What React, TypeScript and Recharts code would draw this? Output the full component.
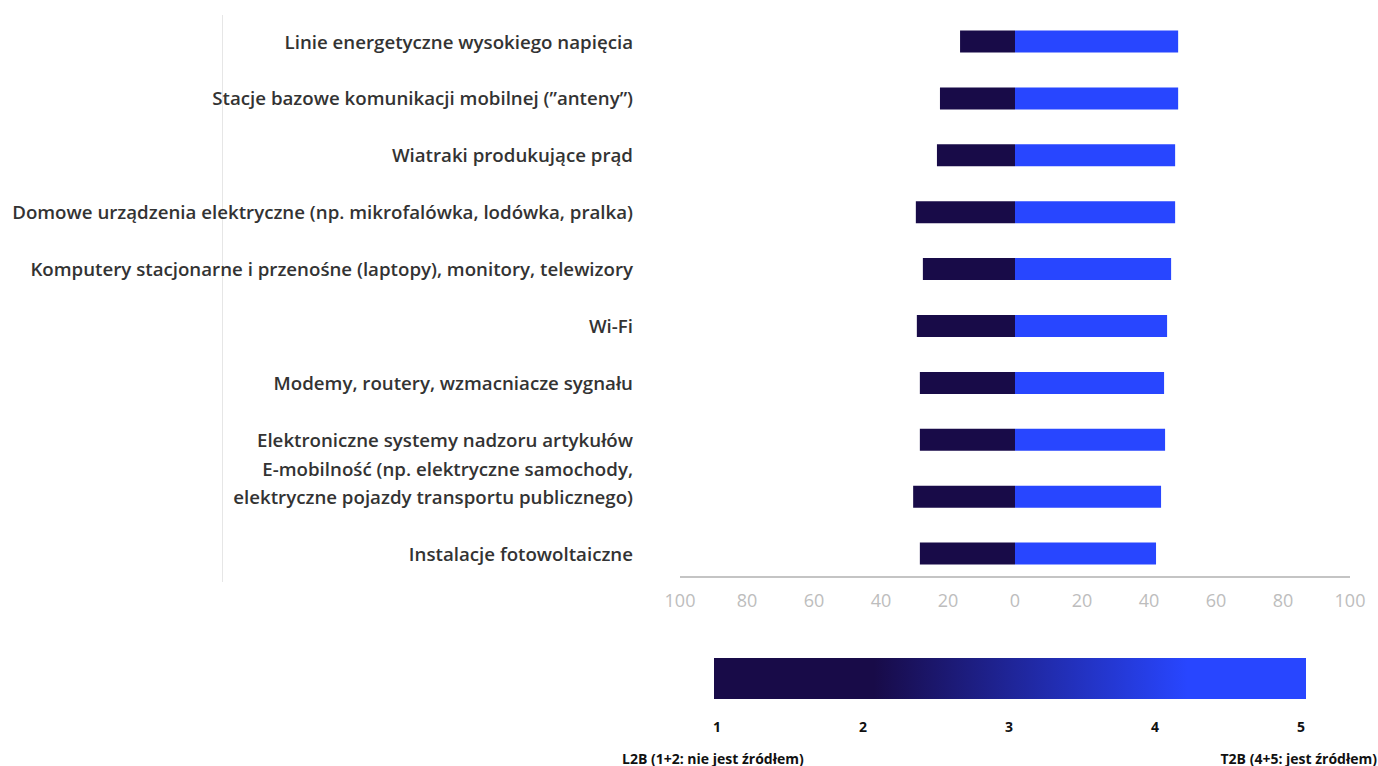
import React from 'react';
import { BarChart, Bar, XAxis, YAxis } from 'recharts';

const categories = [
    'Linie energetyczne wysokiego napięcia',
    'Stacje bazowe komunikacji mobilnej (”anteny”)',
    'Wiatraki produkujące prąd',
    'Domowe urządzenia elektryczne (np. mikrofalówka, lodówka, pralka)',
    'Komputery stacjonarne i przenośne (laptopy), monitory, telewizory',
    'Wi-Fi',
    'Modemy, routery, wzmacniacze sygnału',
    'Elektroniczne systemy nadzoru artykułów',
    'E-mobilność (np. elektryczne samochody,\nelektryczne pojazdy transportu publicznego)',
    'Instalacje fotowoltaiczne',
];

// L2B shown to the left of zero, T2B to the right
const l2bValues = [16.4, 22.4, 23.3, 29.6, 27.5, 29.3, 28.4, 28.4, 30.4, 28.4];
const t2bValues = [48.7, 48.7, 47.8, 47.8, 46.6, 45.4, 44.5, 44.8, 43.6, 42.1];

const xTicks = [-100, -80, -60, -40, -20, 0, 20, 40, 60, 80, 100];

const scaleLabels = ['1', '2', '3', '4', '5'];
const scaleEnds = ['L2B (1+2: nie jest źródłem)', 'T2B (4+5: jest źródłem)'];

const DARK = '#180B48';
const BLUE = '#2846FF';
const FONT = "'Open Sans', sans-serif";

const data = categories.map((name, i) => ({
    name,
    l2b: -l2bValues[i],
    t2b: t2bValues[i],
}));

const CategoryTick = (props: any) => {
    const { x, y, payload } = props;
    const lines: string[] = String(payload.value).split('\n');
    const first = -(lines.length - 1) * 28;
    return (
        <g>
            {lines.map((ln, i) => (
                <text
                    key={i}
                    x={x - 47}
                    y={y + first + i * 28}
                    dy="0.35em"
                    textAnchor="end"
                    fill="#333333"
                    fontSize={18.7}
                    fontWeight={600}
                    fontFamily={FONT}
                >
                    {ln}
                </text>
            ))}
        </g>
    );
};

const ScaleLegend = () => {
    const x0 = 714;
    const x1 = 1306;
    return (
        <svg width={1378} height={126} style={{ position: 'absolute', left: 0, top: 640 }}>
            <defs>
                <linearGradient id="scaleGrad" x1="0" x2="1" y1="0" y2="0">
                    <stop offset="0" stopColor={DARK} />
                    <stop offset="0.27" stopColor={DARK} />
                    <stop offset="0.8" stopColor={BLUE} />
                    <stop offset="1" stopColor={BLUE} />
                </linearGradient>
            </defs>
            <rect x={x0} y={18} width={x1 - x0} height={41} fill="url(#scaleGrad)" />
            {scaleLabels.map((l, i) => (
                <text
                    key={l}
                    x={717 + i * 146}
                    y={92}
                    textAnchor="middle"
                    fontSize={14}
                    fontWeight={700}
                    fill="#111111"
                    fontFamily={FONT}
                >
                    {l}
                </text>
            ))}
            <text x={622} y={123.5} fontSize={14} fontWeight={700} fill="#111111" fontFamily={FONT}>
                {scaleEnds[0]}
            </text>
            <text x={1377} y={123.5} textAnchor="end" fontSize={14} fontWeight={700} fill="#111111" fontFamily={FONT}>
                {scaleEnds[1]}
            </text>
        </svg>
    );
};

export default function App() {
    return (
        <div style={{ position: 'absolute', left: 0, top: 0, width: 1378, height: 766, overflow: 'hidden', fontFamily: FONT, background: '#fff' }}>
            <div style={{ position: 'absolute', left: 222, top: 15, width: 1, height: 567, background: '#e6e6e6' }} />
            <div style={{ position: 'absolute', left: 0, top: 0 }}>
                <BarChart
                    width={1378}
                    height={617}
                    data={data}
                    layout="vertical"
                    stackOffset="sign"
                    barSize={22}
                    margin={{ top: 13.6, right: 28, bottom: 0, left: 0 }}
                >
                    <XAxis
                        type="number"
                        domain={[-100, 100]}
                        ticks={xTicks}
                        tickFormatter={(v: number) => String(Math.abs(v))}
                        axisLine={{ stroke: '#c4c4c4', strokeWidth: 2 }}
                        tickLine={false}
                        tickSize={0}
                        tickMargin={17}
                        height={40}
                        tick={{ fill: '#bdbdbd', fontSize: 18, fontFamily: FONT }}
                    />
                    <YAxis
                        type="category"
                        dataKey="name"
                        width={680}
                        axisLine={false}
                        tickLine={false}
                        tickSize={0}
                        tickMargin={0}
                        interval={0}
                        padding={{ top: 0, bottom: -5.4 }}
                        tick={<CategoryTick />}
                    />
                    <Bar dataKey="l2b" stackId="a" fill={DARK} isAnimationActive={false} />
                    <Bar dataKey="t2b" stackId="a" fill={BLUE} isAnimationActive={false} />
                </BarChart>
            </div>
            <ScaleLegend />
        </div>
    );
}
